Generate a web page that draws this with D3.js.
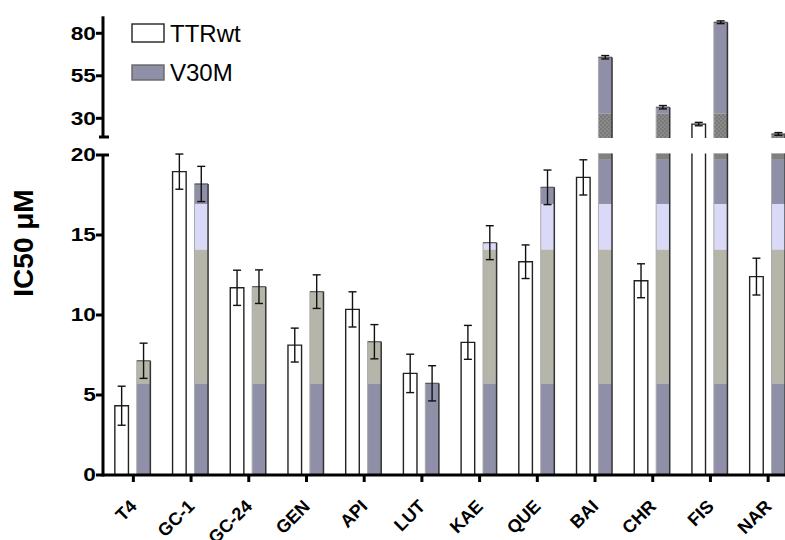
<!DOCTYPE html>
<html>
<head>
<meta charset="utf-8">
<script src="https://cdn.jsdelivr.net/npm/d3@7"></script>
<style>
  body { margin: 0; background: #fff; }
  text { font-family: Arial, "Liberation Sans", sans-serif; }
</style>
</head>
<body>
<svg id="chart"></svg>
<script>
// values (IC50, uM)
var compounds = ["T4", "GC-1", "GC-24", "GEN", "API", "LUT", "KAE", "QUE", "BAI", "CHR", "FIS", "NAR"];
var wtMean = [4.33, 18.96, 11.7, 8.12, 10.35, 6.35, 8.29, 13.33, 18.6, 12.14, 26.6, 12.4];
var wtErr = [1.22, 1.1, 1.1, 1.06, 1.1, 1.2, 1.06, 1.05, 1.1, 1.06, 1.0, 1.15];
var v30Mean = [7.14, 18.19, 11.77, 11.46, 8.33, 5.73, 14.52, 17.98, 65.9, 36.5, 86.5, 20.8];
var v30Err = [1.1, 1.1, 1.05, 1.05, 1.07, 1.1, 1.06, 1.08, 1.0, 1.0, 0.8, 0.8];
var lowTicks = [0, 5, 10, 15, 20];
var highTicks = [30, 55, 80];
var seriesNames = ["TTRwt", "V30M"];

var w = 785, h = 540;
var blueGray = "#8f8fa8";

var svg = d3.select("#chart").attr("width", w).attr("height", h);

var defs = svg.append("defs");
var pat = defs.append("pattern").attr("id", "checker")
  .attr("width", 4).attr("height", 4).attr("patternUnits", "userSpaceOnUse");
pat.append("rect").attr("width", 4).attr("height", 4).attr("fill", "#8a8a8a");
pat.append("rect").attr("width", 2).attr("height", 2).attr("fill", "#7a7a7a");
pat.append("rect").attr("x", 2).attr("y", 2).attr("width", 2).attr("height", 2).attr("fill", "#7a7a7a");

// scales: broken axis, lower 0-20 and upper part
var x = d3.scaleBand().domain(compounds).range([104.5, 797]);
var sub = d3.scaleBand().domain(seriesNames).range([-18.5, 17]).paddingInner(0.38);
var yLow = d3.scaleLinear().domain([0, 20]).range([475, 155]);
var yHigh = d3.scaleLinear().domain([30, 80]).range([118.3, 33.3]);
var highBase = 138, lowTop = 20.1;
var highMin = yHigh.invert(highBase);

// colour bands of the V30M bars (fill artefact of original)
var lowBands = [[0, 5.73, blueGray], [5.73, 14.1, "#b5b5a9"], [14.1, 16.94, "#dadaf8"],
  [16.94, 19.7, blueGray], [19.7, lowTop, "#808080"]];
var highBands = [[highMin, 32.9, "url(#checker)"], [32.9, 200, blueGray]];

var bars = [];
compounds.forEach(function (c, i) {
  bars.push({ c: c, s: "TTRwt", v: wtMean[i], e: wtErr[i] });
  bars.push({ c: c, s: "V30M", v: v30Mean[i], e: v30Err[i] });
});

var bw = sub.bandwidth();
var g = svg.append("g");

bars.forEach(function (d) {
  var cx = x(d.c) + x.bandwidth() / 2;
  var x0 = cx + sub(d.s);
  var x1 = x0 + bw;
  var lowV = Math.min(d.v, lowTop);
  var yt = yLow(lowV);
  var yb = yLow(0);
  if (d.s === "V30M") {
    lowBands.forEach(function (b) {
      if (d.v <= b[0]) return;
      var top = Math.min(d.v, b[1]);
      g.append("rect").attr("x", x0).attr("width", bw)
        .attr("y", yLow(top)).attr("height", yLow(b[0]) - yLow(top))
        .attr("fill", b[2]);
    });
    if (d.v > lowTop) {
      highBands.forEach(function (b) {
        if (d.v <= b[0]) return;
        var top = Math.min(d.v, b[1]);
        g.append("rect").attr("x", x0).attr("width", bw)
          .attr("y", yHigh(top)).attr("height", yHigh(b[0]) - yHigh(top))
          .attr("fill", b[2]);
      });
    }
    // edges: light left, dark right
    var segs = [[yt, yb]];
    if (d.v > lowTop) segs.push([yHigh(d.v), highBase]);
    segs.forEach(function (s) {
      g.append("line").attr("x1", x0).attr("x2", x0).attr("y1", s[0]).attr("y2", s[1])
        .attr("stroke", "#aaa").attr("stroke-width", 1);
      g.append("line").attr("x1", x1).attr("x2", x1).attr("y1", s[0]).attr("y2", s[1])
        .attr("stroke", "#333").attr("stroke-width", 1.5);
      if (s[0] !== yLow(lowTop))
        g.append("line").attr("x1", x0).attr("x2", x1).attr("y1", s[0]).attr("y2", s[0])
          .attr("stroke", "#555").attr("stroke-width", 1.2);
    });
  } else {
    var p = d3.path();
    p.moveTo(x0, yb); p.lineTo(x0, yt);
    if (d.v <= lowTop) p.lineTo(x1, yt); else p.moveTo(x1, yt);
    p.lineTo(x1, yb);
    if (d.v > lowTop) {
      var yh = yHigh(d.v);
      p.moveTo(x0, highBase); p.lineTo(x0, yh); p.lineTo(x1, yh); p.lineTo(x1, highBase);
    }
    g.append("path").attr("d", p.toString()).attr("fill", "#fff")
      .attr("stroke", "#222").attr("stroke-width", 1.4);
  }
  // error bar
  var ys = d.v > lowTop ? yHigh : yLow;
  var xm = (x0 + x1) / 2;
  var ya = ys(d.v + d.e), yb2 = ys(d.v - d.e);
  g.append("line").attr("x1", xm).attr("x2", xm).attr("y1", ya).attr("y2", yb2)
    .attr("stroke", "#111").attr("stroke-width", 1.4);
  [ya, yb2].forEach(function (yy) {
    g.append("line").attr("x1", xm - 4).attr("x2", xm + 4).attr("y1", yy).attr("y2", yy)
      .attr("stroke", "#111").attr("stroke-width", 1.4);
  });
});

// axes
var ax = svg.append("g").attr("stroke", "#000").attr("stroke-width", 3);
var axX = 103;
ax.append("line").attr("x1", axX).attr("x2", axX).attr("y1", yLow(20)).attr("y2", yLow(0) + 1.5);
ax.append("line").attr("x1", axX).attr("x2", axX).attr("y1", yHigh(90)).attr("y2", 137);
ax.append("line").attr("x1", axX - 4).attr("x2", axX + 6).attr("y1", 137).attr("y2", 137);
ax.append("line").attr("x1", axX).attr("x2", w).attr("y1", yLow(0)).attr("y2", yLow(0));

lowTicks.forEach(function (t) {
  ax.append("line").attr("x1", axX - 7).attr("x2", t === 20 ? axX + 6 : axX)
    .attr("y1", yLow(t)).attr("y2", yLow(t));
});
highTicks.forEach(function (t) {
  ax.append("line").attr("x1", axX - 7).attr("x2", axX).attr("y1", yHigh(t)).attr("y2", yHigh(t));
});
compounds.forEach(function (c) {
  var cx = x(c) + x.bandwidth() / 2;
  ax.append("line").attr("x1", cx).attr("x2", cx).attr("y1", yLow(0)).attr("y2", yLow(0) + 7);
});

var lab = svg.append("g").attr("font-weight", "bold").attr("font-size", 17.5).attr("fill", "#000");
lowTicks.forEach(function (t) {
  lab.append("text").attr("transform", "translate(96," + (yLow(t) + 6.3) + ") scale(1.3,1)")
    .attr("text-anchor", "end").text(t);
});
highTicks.forEach(function (t) {
  lab.append("text").attr("transform", "translate(96," + (yHigh(t) + 6.3) + ") scale(1.3,1)")
    .attr("text-anchor", "end").text(t);
});
compounds.forEach(function (c) {
  var cx = x(c) + x.bandwidth() / 2;
  lab.append("text").attr("transform", "translate(" + cx + ",503) rotate(-45)")
    .attr("text-anchor", "end").attr("dy", "0.35em").attr("font-size", 18).text(c);
});

svg.append("text").attr("transform", "translate(33,243) rotate(-90)")
  .attr("text-anchor", "middle").attr("font-weight", "bold").attr("font-size", 28)
  .text("IC50 \u03bcM");

// legend
var leg = svg.append("g");
leg.append("rect").attr("x", 132).attr("y", 24).attr("width", 32).attr("height", 18)
  .attr("fill", "#fff").attr("stroke", "#222").attr("stroke-width", 1.4);
leg.append("rect").attr("x", 132).attr("y", 65).attr("width", 32).attr("height", 15)
  .attr("fill", blueGray).attr("stroke", "#666").attr("stroke-width", 1.4);
leg.append("text").attr("x", 170).attr("y", 42).attr("font-size", 24).text(seriesNames[0]);
leg.append("text").attr("x", 170).attr("y", 81).attr("font-size", 24).text(seriesNames[1]);
</script>
</body>
</html>
